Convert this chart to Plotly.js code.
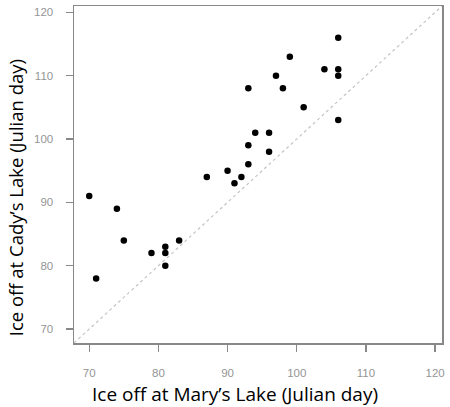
<!DOCTYPE html>
<html>
<head>
<meta charset="utf-8">
<script src="https://cdn.plot.ly/plotly-3.0.1.min.js"></script>
<style>html,body{margin:0;padding:0;background:#fff;}#chart{width:450px;height:407px;}</style>
</head>
<body>
<div id="chart"></div>
<script>
// Ice-off day at Mary's Lake (x) vs Cady's Lake (y)
const marysLake = [70, 71, 74, 75, 79, 81, 81, 81, 83, 87, 90, 91, 92, 93, 93, 93, 94, 96, 96, 97, 98, 99, 101, 104, 106, 106, 106, 106];
const cadysLake = [91, 78, 89, 84, 82, 83, 82, 80, 84, 94, 95, 93, 94, 96, 99, 108, 101, 101, 98, 110, 108, 113, 105, 111, 116, 111, 110, 103];
const oneToOne = [67.8, 121];
const tickVals = [70, 80, 90, 100, 110, 120];
const xTitle = "Ice off at Mary\u2019s Lake (Julian day)";
const yTitle = "Ice off at Cady\u2019s Lake (Julian day)";

const traces = [
  {x: oneToOne, y: oneToOne, mode: 'lines', type: 'scatter',
   line: {color: '#c4c4c4', width: 1.2, dash: 'dot'}, hoverinfo: 'skip'},
  {x: marysLake, y: cadysLake, mode: 'markers', type: 'scatter',
   marker: {color: '#000', size: 6.5}}
];

const axisCommon = {
  range: [67.8, 121], tickvals: tickVals, ticks: 'outside', ticklen: 7, tickwidth: 1.2,
  tickcolor: '#888', showline: true, linecolor: '#888', linewidth: 1.5, mirror: true,
  showgrid: false, zeroline: false,
  tickfont: {family: 'Liberation Sans, Arial, sans-serif', size: 11.5, color: '#959595'}
};

const layout = {
  width: 450, height: 407,
  margin: {l: 74, r: 8, t: 6, b: 64},
  showlegend: false,
  paper_bgcolor: '#fff', plot_bgcolor: '#fff',
  xaxis: Object.assign({}, axisCommon, {ticklabelstandoff: 12}),
  yaxis: Object.assign({}, axisCommon, {ticklabelstandoff: 10}),
  annotations: [
    {text: xTitle, xref: 'paper', yref: 'paper', x: 0.4375, y: -0.151, xanchor: 'center', yanchor: 'middle',
     showarrow: false, font: {family: 'Open Sans, sans-serif', size: 19, color: '#000'}},
    {text: yTitle, xref: 'paper', yref: 'paper', x: -0.158, y: 0.432, xanchor: 'center', yanchor: 'middle',
     textangle: -90, showarrow: false, font: {family: 'Open Sans, sans-serif', size: 18.5, color: '#000'}}
  ]
};

Plotly.newPlot('chart', traces, layout, {displayModeBar: false, staticPlot: true});
</script>
</body>
</html>
